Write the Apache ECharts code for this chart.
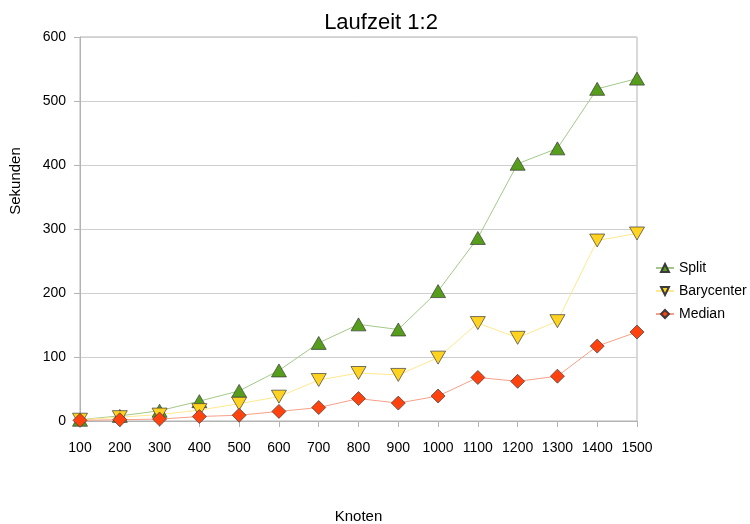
<!DOCTYPE html>
<html>
<head>
<meta charset="utf-8">
<script src="https://cdn.jsdelivr.net/npm/echarts@6/dist/echarts.min.js"></script>
<style>
  html, body { margin: 0; padding: 0; background: #fff; }
  #chart { width: 750px; height: 524px; }
</style>
</head>
<body>
<div id="chart"></div>
<script>
// Knoten (node counts) on the x axis
const knoten = ['100', '200', '300', '400', '500', '600', '700', '800', '900', '1000', '1100', '1200', '1300', '1400', '1500'];

// Laufzeit in Sekunden per method
const split      = [2, 8, 16, 31, 47, 79, 122, 151, 143, 203, 286, 402, 426, 519, 535];
const barycenter = [2, 6, 10, 17, 27, 38, 64, 75, 72, 99, 153, 130, 156, 282, 293];
const median     = [1, 2, 3, 7, 9, 15, 21, 35, 28, 39, 68, 62, 70, 117, 139];

const FONT = '"Liberation Sans", Arial, sans-serif';

function makeSeries(name, data, fill, lineColor, symbol, size, rotate) {
  return {
    name: name,
    type: 'line',
    data: data,
    symbol: symbol,
    symbolSize: size,
    symbolRotate: rotate,
    itemStyle: { color: fill, borderColor: '#3a3a3a', borderWidth: 0.7 },
    lineStyle: { color: lineColor, width: 1 },
    emphasis: { disabled: true },
    animation: false
  };
}

const chart = echarts.init(document.getElementById('chart'));
chart.setOption({
  backgroundColor: '#ffffff',
  title: {
    text: 'Laufzeit 1:2',
    left: 376,
    textAlign: 'center',
    top: 7,
    textStyle: { fontFamily: FONT, fontSize: 22, fontWeight: 'normal', color: '#000' }
  },
  legend: {
    orient: 'vertical',
    left: 650,
    top: 256,
    itemGap: 9,
    itemWidth: 18,
    itemHeight: 10,
    textStyle: { fontFamily: FONT, fontSize: 14, color: '#000', lineHeight: 14 },
    data: ['Split', 'Barycenter', 'Median']
  },
  grid: {
    left: 80, right: 113, top: 37, bottom: 103,
    containLabel: false,
    outerBoundsMode: 'none',
    show: true, borderColor: '#b3b3b3', borderWidth: 1
  },
  xAxis: {
    type: 'category',
    data: knoten,
    boundaryGap: false,
    name: 'Knoten',
    nameLocation: 'middle',
    nameGap: 88,
    nameTextStyle: { fontFamily: FONT, fontSize: 15, color: '#000' },
    axisLine: { lineStyle: { color: '#b3b3b3' } },
    axisTick: { show: true, length: 6, lineStyle: { color: '#b3b3b3' }, alignWithLabel: true },
    axisLabel: { fontFamily: FONT, fontSize: 14, color: '#000', margin: 20, interval: 0 },
    splitLine: { show: false }
  },
  yAxis: {
    type: 'value',
    min: 0, max: 600, interval: 100,
    name: 'Sekunden',
    nameLocation: 'middle',
    nameGap: 57,
    nameRotate: 90,
    nameTextStyle: { fontFamily: FONT, fontSize: 15, color: '#000', padding: [0, 0, 0, 96] },
    axisLine: { show: true, lineStyle: { color: '#b3b3b3' } },
    axisTick: { show: true, length: 6, lineStyle: { color: '#b3b3b3' } },
    axisLabel: { fontFamily: FONT, fontSize: 14, color: '#000', margin: 14 },
    splitLine: { show: true, lineStyle: { color: '#cfcfcf', width: 1 } }
  },
  series: [
    makeSeries('Split', split, '#579d1c', '#a3c98a', 'triangle', [15, 13], 0),
    makeSeries('Barycenter', barycenter, '#ffd320', '#ffe98f', 'triangle', [15, 13], 180),
    makeSeries('Median', median, '#ff420e', '#f5a08a', 'diamond', [14, 14], 0)
  ]
});
</script>
</body>
</html>
